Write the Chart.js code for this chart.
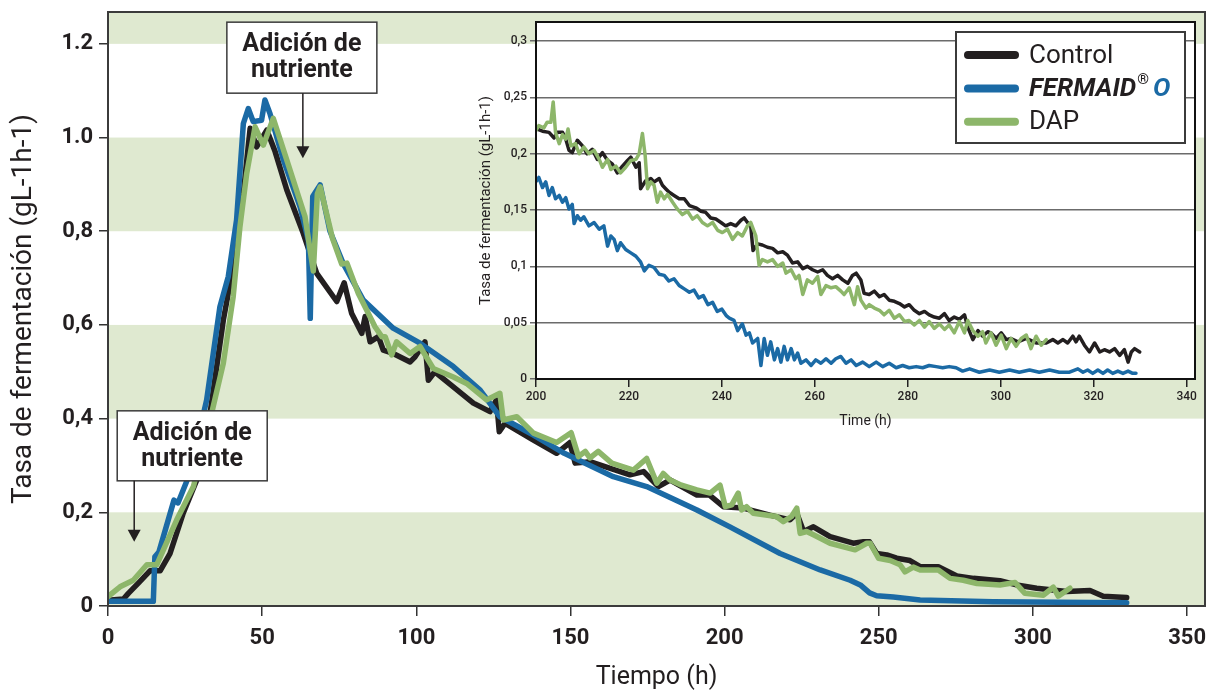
<!DOCTYPE html>
<html lang="es">
<head>
<meta charset="UTF-8">
<title>Tasa de fermentación</title>
<script src="https://cdn.jsdelivr.net/npm/chart.js"></script>
<style>
    body { margin: 0; background: #fff; }
    #wrap { position: relative; width: 1222px; height: 693px; }
    #wrap canvas { position: absolute; left: 0; top: 0; }
    #insetChart { pointer-events: none; }
</style>
</head>
<body>
<div id="wrap">
    <canvas id="mainChart" width="1222" height="693"></canvas>
    <canvas id="insetChart" width="1222" height="693"></canvas>
</div>
<script>
// ---- main chart (0-330 h) ----
const ctlTime = [0, 5, 6.6, 10, 13.6, 16.9, 20.1, 24.4, 28.8, 33.1, 37.4, 40.6, 43.9, 46.1, 48.2, 51.5, 54.2, 58, 63.3, 67.7,
    74.2, 76.6, 79, 82.3, 83.4, 85, 87.7, 89.3, 92.5, 98, 99.6, 102.8, 103.9, 106, 112, 118.5, 123.9, 126, 126.9, 128.8,
    138, 145.5, 149.8, 151.5, 156.3, 169.3, 173.7, 178.5, 182.3, 191, 195, 199.6, 206, 214.7, 221.2, 223.4, 225.6, 228.8,
    234.2, 241.7, 245, 247, 249.3, 252.6, 255.8, 260.1, 263.4, 269.3, 275.3, 280.7, 289.3, 294.7, 301.2, 310.9, 318.5,
    322.8, 327.2, 330.4];
const ctlRate = [0.012, 0.015, 0.027, 0.05, 0.075, 0.075, 0.112, 0.198, 0.269, 0.411, 0.61, 0.724, 0.881, 1.02, 0.98, 1.016, 0.97, 0.888, 0.796, 0.71,
    0.65, 0.69, 0.625, 0.582, 0.618, 0.564, 0.575, 0.546, 0.539, 0.521, 0.532, 0.564, 0.482, 0.5, 0.468, 0.433, 0.415, 0.44, 0.372, 0.39,
    0.354, 0.326, 0.349, 0.305, 0.308, 0.28, 0.287, 0.255, 0.269, 0.237, 0.237, 0.212, 0.209, 0.194, 0.184, 0.198, 0.159, 0.169,
    0.148, 0.134, 0.137, 0.137, 0.112, 0.109, 0.102, 0.097, 0.084, 0.084, 0.064, 0.059, 0.054, 0.045, 0.038, 0.031, 0.033,
    0.021, 0.019, 0.018];

const ferTime = [0, 14.7, 15.2, 16.5, 21.4, 22.7, 26.6, 32, 36.3, 39, 41.7, 43.9, 45.5, 47.1, 49.8, 50.9, 52.5, 56.9, 62.3, 65,
    65.6, 66.4, 68.8, 72, 76.3, 82.8, 92.5, 101.2, 112, 120.7, 127.1, 138, 148, 163.9, 174.7, 191, 201.7, 218, 231, 240.7,
    244, 247, 249.3, 254.7, 263.4, 287, 330.4];
const ferRate = [0.01, 0.01, 0.105, 0.115, 0.226, 0.22, 0.284, 0.44, 0.639, 0.703, 0.824, 1.03, 1.062, 1.034, 1.037, 1.08, 1.052, 0.952, 0.852, 0.78,
    0.614, 0.874, 0.899, 0.8, 0.731, 0.653, 0.593, 0.561, 0.511, 0.461, 0.404, 0.365, 0.326, 0.276, 0.255, 0.205, 0.169, 0.112, 0.077, 0.055,
    0.045, 0.028, 0.022, 0.019, 0.013, 0.009, 0.007];

const dapTime = [0, 3.9, 8.2, 12.6, 15.8, 22.3, 27.7, 33.1, 37.4, 40.6, 42.8, 45, 47.7, 50.4, 53.6, 58, 63.9, 66.6, 67.9, 68.8,
    72.8, 75.8, 77.5, 81.2, 86.6, 88.8, 89.9, 92, 93.6, 98, 101.2, 105.5, 112, 116.3, 122.8, 127.1, 128.2, 132.6, 138, 145.5,
    150.2, 152.6, 154.8, 156.3, 159, 163.4, 170.4, 174.7, 178, 180.1, 182.3, 186, 191, 195.3, 198.5, 200.2, 202.3, 204.4,
    205.5, 207.1, 209.3, 216.8, 219, 221.7, 223.4, 224.5, 226.6, 228.8, 234.2, 242.3, 246.1, 247.2, 249.9, 253.7, 256.9,
    258.5, 261.2, 263.4, 269.3, 273.1, 277.4, 281.8, 289.3, 294.2, 297.4, 303.4, 306.6, 308.2, 312];
const dapRate = [0.02, 0.041, 0.055, 0.088, 0.088, 0.184, 0.255, 0.397, 0.518, 0.66, 0.81, 0.924, 1.023, 0.984, 1.041, 0.952, 0.831, 0.715, 0.88, 0.895,
    0.785, 0.73, 0.732, 0.667, 0.596, 0.575, 0.575, 0.536, 0.564, 0.539, 0.554, 0.507, 0.489, 0.475, 0.44, 0.454, 0.397, 0.404, 0.369, 0.349,
    0.37, 0.319, 0.33, 0.316, 0.33, 0.305, 0.29, 0.315, 0.262, 0.283, 0.269, 0.258, 0.248, 0.241, 0.258, 0.212, 0.216, 0.241,
    0.205, 0.212, 0.198, 0.191, 0.18, 0.191, 0.209, 0.155, 0.159, 0.152, 0.134, 0.12, 0.134, 0.134, 0.102, 0.097, 0.088,
    0.073, 0.083, 0.077, 0.077, 0.059, 0.055, 0.048, 0.045, 0.05, 0.027, 0.023, 0.04, 0.021, 0.038];

const mainTimeTicks = [0, 50, 100, 150, 200, 250, 300, 350];
const mainRateTicks = [0, 0.2, 0.4, 0.6, 0.8, 1.0, 1.2];
const mainRateLabels = ['0', '0,2', '0,4', '0,6', '0,8', '1.0', '1.2'];
const nutrientTimes = [8.5, 63.2];
const nutrientRates = [0.137, 0.956];

// ---- inset (200-330 h) ----
const iCtlTime = [199.6, 201.4, 202.8, 203.9, 204.6, 205.7, 206.4, 207.1, 207.8, 208.9, 210, 211, 212.1, 213.2, 214.3, 215.4, 216.4, 217.5,
    218.6, 219.7, 220.4, 221.5, 222.2, 222.5, 223.6, 224.7, 225.4, 226.5, 227.2, 227.9, 228.6, 229.7, 230.8, 231.9, 233, 234.4,
    235.5, 236.5, 237.6, 238.7, 239.8, 240.8, 241.9, 243, 244.1, 244.8, 245.5, 246.2, 246.7, 247.7, 248.7, 249.8, 250.9, 252,
    253.1, 254.1, 255.2, 256.3, 257.4, 258.4, 259.5, 260.6, 261.7, 262.7, 263.8, 264.9, 266, 267.1, 268.1, 268.9, 269.9, 270.6,
    271.7, 272.8, 273.9, 274.9, 276, 277.1, 278.2, 279.3, 280.3, 281.4, 282.5, 283.6, 284.6, 285.7, 286.8, 287.9, 288.9, 290,
    291.1, 292.2, 292.9, 294, 295.1, 296.1, 297.2, 297.9, 299, 300.1, 301.2, 302.2, 303.7, 305.5, 307.6, 309.8, 311.2, 312.3,
    313.4, 314.4, 315.5, 316.2, 316.9, 318, 319.1, 320.2, 321.3, 322.3, 323.4, 324.5, 325.6, 326.6, 327.4, 328.1, 328.8, 329.9];
const iCtlRate = [0.223, 0.22, 0.219, 0.214, 0.219, 0.219, 0.213, 0.203, 0.201, 0.212, 0.207, 0.2, 0.204, 0.195, 0.201, 0.194, 0.191, 0.183,
    0.189, 0.194, 0.197, 0.188, 0.192, 0.169, 0.176, 0.178, 0.175, 0.178, 0.172, 0.169, 0.166, 0.163, 0.16, 0.16, 0.154, 0.152,
    0.149, 0.148, 0.143, 0.142, 0.139, 0.136, 0.138, 0.136, 0.141, 0.143, 0.139, 0.136, 0.114, 0.12, 0.119, 0.117, 0.116, 0.112,
    0.113, 0.11, 0.103, 0.104, 0.098, 0.1, 0.097, 0.095, 0.097, 0.092, 0.089, 0.092, 0.088, 0.085, 0.092, 0.094, 0.088, 0.076,
    0.075, 0.078, 0.073, 0.075, 0.07, 0.069, 0.067, 0.064, 0.066, 0.061, 0.058, 0.06, 0.057, 0.055, 0.054, 0.058, 0.052, 0.055,
    0.053, 0.057, 0.046, 0.035, 0.043, 0.038, 0.042, 0.041, 0.036, 0.041, 0.035, 0.036, 0.033, 0.036, 0.032, 0.032, 0.035, 0.032,
    0.035, 0.032, 0.038, 0.033, 0.038, 0.03, 0.024, 0.032, 0.024, 0.026, 0.024, 0.027, 0.021, 0.026, 0.015, 0.024, 0.027, 0.024];

const iFerTime = [199.6, 200.6, 201.4, 202.1, 202.8, 203.5, 204.2, 205, 205.7, 206.4, 207.1, 207.8, 208.2, 208.9, 209.6, 210.3, 211.4, 212.5,
    213.6, 214.6, 215.4, 216.1, 216.8, 217.5, 218.2, 219.3, 220.4, 221.5, 222.5, 223.3, 224.3, 225.4, 226.5, 227.6, 228.6, 229.7,
    230.8, 231.9, 233, 234, 235, 236, 237, 238, 239, 240, 241, 241.6, 242.6, 243.4, 244.4, 245.2, 245.9, 246.6, 247.7, 248.4,
    249.1, 249.8, 250.5, 251.3, 252, 252.7, 253.4, 254.1, 254.9, 255.6, 256.3, 257, 258.1, 259.2, 260.2, 261.3, 262.4, 263.5,
    264.5, 265.6, 266.7, 267.8, 268.9, 270.3, 271.7, 273.2, 274.6, 276, 277.5, 278.9, 280.3, 281.8, 283.2, 284.6, 286.1, 287.5,
    288.9, 290.4, 291.8, 293.3, 295.4, 297.6, 299.7, 301.9, 304, 306.2, 308.3, 310.5, 312.6, 314.8, 316.6, 317.7, 318.7, 319.8,
    320.9, 322, 323, 324.1, 325.2, 326.3, 327.4, 328.4, 329.1];
const iFerRate = [0.173, 0.179, 0.17, 0.175, 0.163, 0.17, 0.16, 0.163, 0.157, 0.161, 0.151, 0.155, 0.138, 0.145, 0.141, 0.144, 0.136, 0.139,
    0.133, 0.136, 0.118, 0.127, 0.124, 0.114, 0.121, 0.115, 0.112, 0.109, 0.104, 0.096, 0.101, 0.099, 0.093, 0.092, 0.087, 0.089,
    0.083, 0.08, 0.077, 0.079, 0.072, 0.074, 0.066, 0.068, 0.06, 0.062, 0.056, 0.054, 0.052, 0.043, 0.049, 0.039, 0.041, 0.032, 0.036, 0.012,
    0.036, 0.021, 0.033, 0.017, 0.027, 0.015, 0.029, 0.017, 0.027, 0.017, 0.023, 0.014, 0.017, 0.012, 0.017, 0.014, 0.018, 0.014,
    0.018, 0.02, 0.014, 0.017, 0.012, 0.015, 0.011, 0.015, 0.011, 0.014, 0.01, 0.012, 0.01, 0.011, 0.01, 0.012, 0.011, 0.01,
    0.011, 0.01, 0.007, 0.009, 0.006, 0.008, 0.006, 0.008, 0.006, 0.008, 0.006, 0.008, 0.006, 0.006, 0.009, 0.006, 0.008, 0.005,
    0.008, 0.005, 0.008, 0.005, 0.007, 0.005, 0.007, 0.005, 0.005];

const iDapTime = [199.9, 200.6, 201.7, 202.4, 203.2, 203.7, 204.2, 205, 205.7, 206.4, 206.9, 207.5, 208.5, 209.3, 210.3, 211.4, 212.5, 213.6,
    214.3, 215.4, 216.1, 217.2, 218.2, 219.3, 220.4, 221.5, 222.2, 222.9, 223.5, 224, 224.7, 225.4, 226.1, 226.8, 227.6, 228.3,
    229.4, 230.4, 231.5, 232.6, 233.7, 234.7, 235.8, 236.9, 238, 239.1, 240.1, 241.2, 242.3, 243.4, 244.4, 245.5, 246.2, 247.3,
    248, 248.7, 249.8, 250.9, 252, 253.1, 253.8, 254.9, 255.9, 256.6, 257.4, 258.4, 259.5, 260.6, 261.3, 262.4, 263.5, 264.5,
    265.6, 266.3, 267.4, 268.5, 269.2, 269.9, 271, 271.7, 272.8, 273.9, 274.9, 276, 277.1, 278.2, 279.3, 280.3, 281.4, 282.5,
    283.6, 284.6, 285.7, 286.8, 287.9, 288.9, 290, 291.1, 292.2, 292.9, 294, 295.1, 296.1, 296.8, 297.9, 299, 300.1, 301.2,
    302.2, 303.3, 304.4, 305.5, 306.5, 307.6, 308.7, 309.8];
const iDapRate = [0.22, 0.225, 0.223, 0.228, 0.228, 0.246, 0.219, 0.209, 0.217, 0.213, 0.222, 0.207, 0.209, 0.2, 0.206, 0.2, 0.203, 0.195,
    0.188, 0.195, 0.186, 0.189, 0.183, 0.188, 0.194, 0.195, 0.2, 0.218, 0.198, 0.169, 0.175, 0.172, 0.157, 0.166, 0.16, 0.164,
    0.157, 0.151, 0.146, 0.149, 0.142, 0.145, 0.139, 0.136, 0.139, 0.132, 0.13, 0.133, 0.124, 0.13, 0.127, 0.136, 0.139, 0.127,
    0.101, 0.106, 0.104, 0.106, 0.1, 0.103, 0.094, 0.097, 0.089, 0.092, 0.075, 0.088, 0.085, 0.091, 0.075, 0.083, 0.081, 0.082,
    0.078, 0.075, 0.081, 0.066, 0.082, 0.07, 0.063, 0.066, 0.063, 0.061, 0.057, 0.061, 0.054, 0.057, 0.051, 0.052, 0.048, 0.052,
    0.046, 0.051, 0.045, 0.049, 0.044, 0.048, 0.041, 0.051, 0.041, 0.052, 0.043, 0.038, 0.042, 0.032, 0.041, 0.03, 0.039, 0.027,
    0.036, 0.029, 0.036, 0.039, 0.027, 0.038, 0.03, 0.035];

const insetTimeTicks = [200, 220, 240, 260, 280, 300, 320, 340];
const insetRateTicks = [0, 0.05, 0.1, 0.15, 0.2, 0.25, 0.3];
const insetRateLabels = ['0', '0,05', '0,1', '0,15', '0,2', '0,25', '0,3'];

const BLACK = '#231f20';
const BLUE = '#1b6aa5';
const GREEN = '#8db66a';
const BAND = '#dfe9d0';
const INK = '#231f20';

function pts(xs, ys) {
    return xs.map((x, i) => ({ x: x, y: ys[i] }));
}

// green bands behind the big chart
const bandsPlugin = {
    id: 'bands',
    beforeDraw(chart) {
        const { ctx, chartArea, scales: { y } } = chart;
        const edges = [[0, 0.2], [0.4, 0.6], [0.8, 1.0], [1.2, y.max]];
        ctx.save();
        ctx.fillStyle = BAND;
        edges.forEach(([lo, hi]) => {
            const top = y.getPixelForValue(Math.min(hi, y.max));
            const bot = y.getPixelForValue(lo);
            ctx.fillRect(chartArea.left, top, chartArea.right - chartArea.left, bot - top);
        });
        ctx.restore();
    }
};

// white plot background for the inset
const whiteAreaPlugin = {
    id: 'whiteArea',
    beforeDraw(chart) {
        const { ctx, chartArea } = chart;
        ctx.save();
        ctx.fillStyle = '#fff';
        ctx.fillRect(chartArea.left, chartArea.top, chartArea.right - chartArea.left, chartArea.bottom - chartArea.top);
        ctx.restore();
    }
};

function framePlugin(color, width) {
    return {
        id: 'frame',
        afterDatasetsDraw(chart) {
            const { ctx, chartArea } = chart;
            ctx.save();
            ctx.strokeStyle = color;
            ctx.lineWidth = width;
            ctx.strokeRect(chartArea.left, chartArea.top, chartArea.right - chartArea.left, chartArea.bottom - chartArea.top);
            ctx.restore();
        }
    };
}

// "Adición de nutriente" callouts
const notesPlugin = {
    id: 'notes',
    afterDraw(chart) {
        const { ctx, scales: { x, y } } = chart;
        const boxes = [
            { dx: -17, w: 150, h: 70, gap: 61 },
            { dx: -76, w: 150, h: 71, gap: 65 }
        ];
        ctx.save();
        nutrientTimes.forEach((t, i) => {
            const tipX = x.getPixelForValue(t);
            const tipY = y.getPixelForValue(nutrientRates[i]);
            const b = boxes[i];
            const left = tipX + b.dx;
            const bottom = tipY - b.gap;
            const top = bottom - b.h;
            ctx.fillStyle = '#fff';
            ctx.fillRect(left, top, b.w, b.h);
            ctx.strokeStyle = '#3b3b3b';
            ctx.lineWidth = 1.5;
            ctx.strokeRect(left, top, b.w, b.h);
            ctx.beginPath();
            ctx.moveTo(tipX, bottom);
            ctx.lineTo(tipX, tipY - 10);
            ctx.strokeStyle = INK;
            ctx.stroke();
            ctx.beginPath();
            ctx.moveTo(tipX - 6.5, tipY - 12);
            ctx.lineTo(tipX + 6.5, tipY - 12);
            ctx.lineTo(tipX, tipY);
            ctx.closePath();
            ctx.fillStyle = INK;
            ctx.fill();
            ctx.font = 'bold 25px Roboto';
            ctx.textAlign = 'center';
            ctx.textBaseline = 'middle';
            ctx.fillText('Adición de', left + b.w / 2, top + 23);
            ctx.fillText('nutriente', left + b.w / 2, top + 49);
        });
        ctx.restore();
    }
};

// boxed legend in the inset
const insetLegendPlugin = {
    id: 'insetLegend',
    afterDraw(chart) {
        const { ctx } = chart;
        const left = 956, top = 32, w = 229, h = 111;
        ctx.save();
        ctx.fillStyle = '#fff';
        ctx.fillRect(left, top, w, h);
        ctx.strokeStyle = '#3b3b3b';
        ctx.lineWidth = 2;
        ctx.strokeRect(left, top, w, h);
        chart.data.datasets.forEach((ds, i) => {
            const cy = top + 23 + i * 33.4;
            ctx.beginPath();
            ctx.moveTo(968, cy);
            ctx.lineTo(1015, cy);
            ctx.strokeStyle = ds.borderColor;
            ctx.lineWidth = 8;
            ctx.lineCap = 'round';
            ctx.stroke();
            ctx.textBaseline = 'middle';
            ctx.textAlign = 'left';
            let tx = 1029;
            if (ds.label.indexOf('®') > 0) {
                const [name, tail] = ds.label.split('®');
                ctx.font = 'italic bold 26px Roboto';
                ctx.fillStyle = INK;
                ctx.fillText(name, tx, cy + 1);
                tx += ctx.measureText(name).width + 1;
                ctx.font = 'bold 15px Roboto';
                ctx.fillText('®', tx, cy - 8);
                tx += ctx.measureText('®').width + 4;
                ctx.font = 'italic bold 26px Roboto';
                ctx.fillStyle = ds.borderColor;
                ctx.fillText(tail, tx, cy + 1);
            } else {
                ctx.font = '26px Roboto';
                ctx.fillStyle = INK;
                ctx.fillText(ds.label, tx, cy + 1);
            }
        });
        ctx.restore();
    }
};

const lineLook = {
    point: { radius: 0 },
    line: { tension: 0, borderJoinStyle: 'round', borderCapStyle: 'round' }
};

// fixed axis boxes, no label overhang padding
function fixX(h) {
    return s => { s.height = h; s.paddingLeft = 0; s.paddingRight = 0; };
}
function fixY(w) {
    return s => { s.width = w; s.paddingTop = 0; s.paddingBottom = 0; };
}

new Chart(document.getElementById('mainChart'), {
    type: 'line',
    data: {
        datasets: [
            { label: 'Control', data: pts(ctlTime, ctlRate), borderColor: BLACK, borderWidth: 5.5, order: 2 },
            { label: 'FERMAID®O', data: pts(ferTime, ferRate), borderColor: BLUE, borderWidth: 5.5, order: 1 },
            { label: 'DAP', data: pts(dapTime, dapRate), borderColor: GREEN, borderWidth: 5.5, order: 0 }
        ]
    },
    options: {
        responsive: false,
        animation: false,
        layout: { padding: { left: 0, top: 12, right: 17, bottom: 0 } },
        elements: lineLook,
        plugins: { legend: { display: false }, tooltip: { enabled: false } },
        scales: {
            x: {
                type: 'linear',
                min: 0,
                max: 355.8,
                afterBuildTicks: s => { s.ticks = mainTimeTicks.map(v => ({ value: v })); },
                afterFit: fixX(87),
                ticks: { color: INK, font: { family: 'Roboto', size: 22, weight: 'bold' }, padding: 9, maxRotation: 0 },
                grid: { drawOnChartArea: false, tickLength: 10, color: '#333', lineWidth: 1.5 },
                border: { display: false },
                title: { display: true, text: 'Tiempo (h)', color: INK, font: { family: 'Roboto', size: 25 }, padding: { top: 0, bottom: 0 } }
            },
            y: {
                min: 0,
                max: 1.268,
                afterBuildTicks: s => { s.ticks = mainRateTicks.map(v => ({ value: v })); },
                afterFit: fixY(108),
                ticks: { color: INK, font: { family: 'Roboto', size: 22, weight: 'bold' }, padding: 6, callback: (v, i) => mainRateLabels[i] },
                grid: { drawOnChartArea: false, tickLength: 9, color: '#333', lineWidth: 1.5 },
                border: { display: false },
                title: { display: true, text: 'Tasa de fermentación (gL-1h-1)', color: INK, font: { family: 'Roboto', size: 28 }, padding: { top: 7, bottom: 0 } }
            }
        }
    },
    plugins: [bandsPlugin, framePlugin('#3b3b3b', 2), notesPlugin]
});

new Chart(document.getElementById('insetChart'), {
    type: 'line',
    data: {
        datasets: [
            { label: 'Control', data: pts(iCtlTime, iCtlRate), borderColor: BLACK, borderWidth: 3.5, order: 2 },
            { label: 'FERMAID®O', data: pts(iFerTime, iFerRate), borderColor: BLUE, borderWidth: 3.5, order: 1 },
            { label: 'DAP', data: pts(iDapTime, iDapRate), borderColor: GREEN, borderWidth: 3.5, order: 0 }
        ]
    },
    options: {
        responsive: false,
        animation: false,
        layout: { padding: { left: 470, top: 22, right: 27, bottom: 253 } },
        elements: lineLook,
        plugins: { legend: { display: false }, tooltip: { enabled: false } },
        scales: {
            x: {
                type: 'linear',
                min: 200,
                max: 341.8,
                afterBuildTicks: s => { s.ticks = insetTimeTicks.map(v => ({ value: v })); },
                afterFit: fixX(61),
                ticks: { color: INK, font: { family: 'Roboto', size: 12, weight: '500' }, padding: 3, maxRotation: 0 },
                grid: { drawOnChartArea: false, tickLength: 8, color: '#222', lineWidth: 1.5 },
                border: { display: false },
                title: { display: true, text: 'Time (h)', color: INK, font: { family: 'Roboto', size: 14 }, padding: { top: 0, bottom: 10 } }
            },
            y: {
                min: 0,
                max: 0.317,
                afterBuildTicks: s => { s.ticks = insetRateTicks.map(v => ({ value: v })); },
                afterFit: fixY(66),
                ticks: { color: INK, font: { family: 'Roboto', size: 12, weight: '500' }, padding: 3, callback: (v, i) => insetRateLabels[i] },
                grid: { color: '#6b6b6b', lineWidth: 1.5, tickLength: 6 },
                border: { display: false },
                title: { display: true, text: 'Tasa de fermentación (gL-1h-1)', color: INK, font: { family: 'Roboto', size: 15 }, padding: { top: 7, bottom: 0 } }
            }
        }
    },
    plugins: [whiteAreaPlugin, framePlugin('#111', 2), insetLegendPlugin]
});
</script>
</body>
</html>
